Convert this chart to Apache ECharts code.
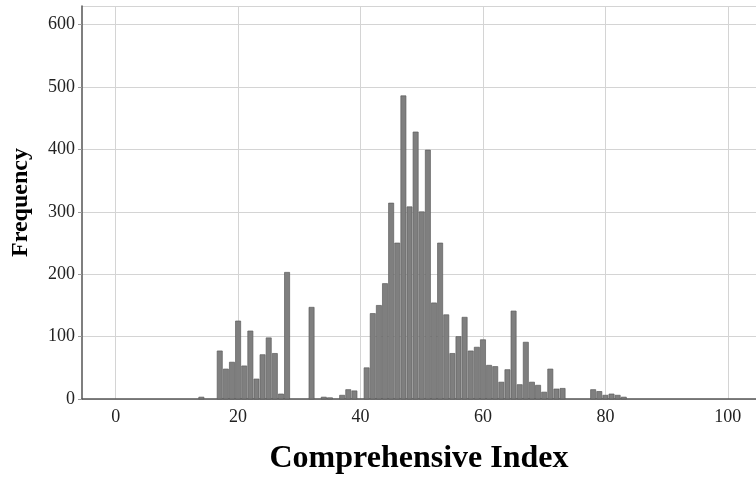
<!DOCTYPE html>
<html>
<head>
<meta charset="utf-8">
<script src="https://cdn.jsdelivr.net/npm/echarts@6/dist/echarts.min.js"></script>
<style>html,body{margin:0;padding:0;background:#fff;}#c{width:756px;height:481px;}</style>
</head>
<body>
<div id="c"></div>
<script>
// Histogram bins (centre of each 1-unit bin) and their frequencies
const binCenters = [14,15,16,17,18,19,20,21,22,23,24,25,26,27,28,29,30,31,32,33,34,35,36,37,38,39,40,
  41,42,43,44,45,46,47,48,49,50,51,52,53,54,55,56,57,58,59,60,61,62,63,64,65,66,67,68,69,70,
  71,72,73,74,75,76,77,78,79,80,81,82,83];
const frequencies = [3,0,0,77,48,59,125,53,109,32,71,98,73,8,203,0,0,0,147,0,3,2,0,6,15,13,0,
  50,137,150,185,314,250,486,308,428,300,399,154,250,135,73,100,131,77,83,95,54,52,27,47,141,23,91,27,22,11,
  48,16,17,0,0,0,0,15,12,6,8,6,3];
const xTickValues = [0,20,40,60,80,100];
const xTitle = 'Comprehensive Index';
const yTitle = 'Frequency';

const data = binCenters.map((c,i)=>[c, frequencies[i]]);
const serif = '"Liberation Serif","DejaVu Serif",serif';

const chart = echarts.init(document.getElementById('c'));
chart.setOption({
  animation:false,
  backgroundColor:'#fff',
  grid:{left:82, right:0, top:6, bottom:82, containLabel:false},
  xAxis:{
    type:'value', min:-5.5, max:104.6,
    name:xTitle, nameLocation:'middle', nameGap:44,
    nameTextStyle:{fontFamily:serif, fontSize:32, fontWeight:'bold', color:'#000'},
    axisLine:{show:true, onZero:false, lineStyle:{color:'#555', width:1.5}},
    axisTick:{show:false, customValues:xTickValues},
    axisLabel:{customValues:xTickValues, fontFamily:serif, fontSize:18, color:'#222', margin:9},
    splitLine:{show:true, lineStyle:{color:'#d4d4d4', width:1}}
  },
  yAxis:{
    type:'value', min:0, max:630, interval:100,
    name:yTitle, nameLocation:'middle', nameGap:49, nameRotate:90,
    nameTextStyle:{fontFamily:serif, fontSize:24, fontWeight:'bold', color:'#000'},
    axisLine:{show:true, onZero:false, lineStyle:{color:'#555', width:1.5}},
    axisTick:{show:true, length:4, lineStyle:{color:'#999'}},
    axisLabel:{fontFamily:serif, fontSize:18, color:'#222', margin:7, showMaxLabel:false},
    splitLine:{show:true, lineStyle:{color:'#d4d4d4', width:1}}
  },
  series:[{
    type:'custom',
    encode:{x:0, y:1},
    data:data,
    renderItem:function(params, api){
      const x = api.value(0), v = api.value(1);
      if (!v) return null;
      const p0 = api.coord([x-0.5, v]);
      const p1 = api.coord([x+0.5, 0]);
      return {
        type:'rect',
        shape:{x:p0[0]+0.5, y:p0[1], width:p1[0]-p0[0]-1, height:p1[1]-p0[1]},
        style:{fill:'#7f7f7f', stroke:'#5c5c5c', lineWidth:0.7}
      };
    }
  }]
});
</script>
</body>
</html>
